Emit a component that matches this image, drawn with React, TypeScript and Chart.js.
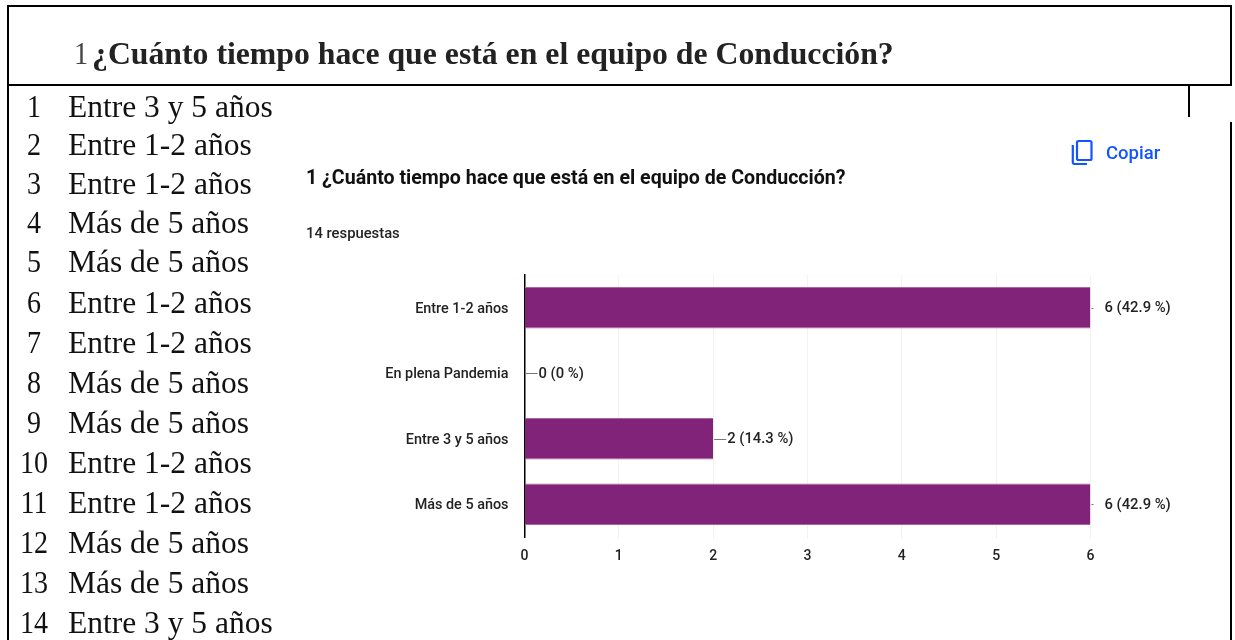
import React, { useEffect, useRef } from "react";
import { Chart, registerables } from "chart.js";

Chart.register(...registerables);

const heading = "¿Cuánto tiempo hace que está en el equipo de Conducción?";
const categories = ["Entre 1-2 años", "En plena Pandemia", "Entre 3 y 5 años", "Más de 5 años"];
const counts = [6, 0, 2, 6];
const percents = ["42.9", "0", "14.3", "42.9"];
const xTicks = [0, 1, 2, 3, 4, 5, 6];
const answers = [
  "Entre 3 y 5 años", "Entre 1-2 años", "Entre 1-2 años", "Más de 5 años", "Más de 5 años",
  "Entre 1-2 años", "Entre 1-2 años", "Más de 5 años", "Más de 5 años", "Entre 1-2 años",
  "Entre 1-2 años", "Más de 5 años", "Más de 5 años", "Entre 3 y 5 años",
];
const answerY = [107, 145, 184, 223, 262, 303, 343, 383, 423, 463, 503, 543, 583, 623];

const SANS = "Roboto, sans-serif";
const SERIF = "'Liberation Serif', serif";

const labelPlugin = {
  id: "valueLabels",
  afterDatasetsDraw(chart: any) {
    const { ctx, scales } = chart;
    ctx.save();
    ctx.font = `500 14.8px ${SANS}`;
    ctx.textBaseline = "middle";
    ctx.textAlign = "left";
    counts.forEach((v, i) => {
      const x = scales.x.getPixelForValue(v);
      const y = scales.y.getPixelForValue(i);
      const full = v === Math.max(...counts);
      ctx.strokeStyle = "#777";
      ctx.lineWidth = 1;
      ctx.beginPath();
      ctx.moveTo(x + 1, Math.round(y) + 0.5);
      ctx.lineTo(x + (full ? 3 : 13), Math.round(y) + 0.5);
      ctx.stroke();
      ctx.fillStyle = "#222";
      ctx.fillText(`${v} (${percents[i]} %)`, x + 14, y + 1);
    });
    ctx.restore();
  },
};

const line = (left: number, top: number, width: number, height: number) => (
  <div style={{ position: "absolute", left, top, width, height, background: "#000" }} />
);

const text = (content: React.ReactNode, style: React.CSSProperties) => (
  <div style={{ position: "absolute", whiteSpace: "nowrap", ...style }}>{content}</div>
);

export default function App() {
  const ref = useRef<HTMLCanvasElement>(null);
  useEffect(() => {
    const chart = new Chart(ref.current!, {
      type: "bar",
      data: {
        labels: categories,
        datasets: [{
          data: counts,
          backgroundColor: "#82237A",
          borderColor: "#a765a1",
          borderWidth: { top: 1, bottom: 1 },
          borderSkipped: false,
          categoryPercentage: 1,
          barPercentage: 0.63,
        }],
      },
      plugins: [labelPlugin],
      options: {
        indexAxis: "y",
        animation: false,
        responsive: false,
        layout: { padding: { left: 340, right: 144.5, top: 275, bottom: 0 } },
        plugins: { legend: { display: false }, tooltip: { enabled: false }, title: { display: false } },
        scales: {
          x: {
            min: 0,
            max: 6,
            afterFit: (s: any) => { s.height = 103; },
            afterBuildTicks: (s: any) => { s.ticks = xTicks.map((value) => ({ value })); },
            grid: { color: "#f2f2f2", tickLength: 2, tickColor: "#f2f2f2" },
            border: { display: false },
            ticks: { color: "#222", padding: 9, font: { family: SANS, size: 14, weight: "500" }, maxRotation: 0 },
          },
          y: {
            afterFit: (s: any) => { s.width = 184.5; },
            grid: { display: false },
            border: { display: true, color: "#000", width: 1.5 },
            ticks: { color: "#222", padding: 8, labelOffset: 1.5, font: { family: SANS, size: 14.4, weight: "500" } },
          },
        },
      },
    } as any);
    return () => chart.destroy();
  }, []);

  return (
    <div style={{ position: "fixed", left: 0, top: 0, width: 1235, height: 640, background: "#fff", overflow: "hidden" }}>
      <canvas ref={ref} width={1235} height={640} style={{ position: "absolute", left: 0, top: 0, display: "block" }} />
      {line(7, 5, 1225, 2)}
      {line(7, 5, 2, 635)}
      {line(7, 84, 1225, 2)}
      {line(1230, 5, 2, 80)}
      {line(1188, 85, 2, 32)}
      {line(1230, 122, 2, 518)}
      {text("1", { left: 74, top: 54, transform: "translateY(-50%) scaleX(0.9)", transformOrigin: "left center", fontFamily: SERIF, fontSize: 31.5, color: "#444" })}
      {text(<b>{heading}</b>, { left: 92, top: 54, transform: "translateY(-50%)", fontFamily: SERIF, fontSize: 31.75, color: "#222" })}
      {answers.map((a, i) => (
        <React.Fragment key={i}>
          {text(i + 1, { left: 14, width: 40, textAlign: "center", top: answerY[i], transform: "translateY(-50%) scaleX(0.89)", fontFamily: SERIF, fontSize: 31.5, color: "#111" })}
          {text(a, { left: 68, top: answerY[i], transform: "translateY(-50%)", fontFamily: SERIF, fontSize: 31.5, color: "#111" })}
        </React.Fragment>
      ))}
      {text(`1 ${heading}`, { left: 306, top: 177, transform: "translateY(-50%)", fontFamily: SANS, fontWeight: 700, fontSize: 19.6, color: "#111" })}
      {text("14 respuestas", { left: 306, top: 233, transform: "translateY(-50%)", fontFamily: SANS, fontWeight: 500, fontSize: 14.8, color: "#222" })}
      <svg style={{ position: "absolute", left: 1070, top: 139 }} width={24} height={28} viewBox="0 0 24 28" fill="none" stroke="#1155ff" strokeWidth={2.2}>
        <rect x={7} y={2} width={14.5} height={19} rx={1.5} />
        <path d="M2.8 6 V23.5 a1.5 1.5 0 0 0 1.5 1.5 H17" />
      </svg>
      {text("Copiar", { left: 1106, top: 153, transform: "translateY(-50%)", fontFamily: SANS, fontWeight: 500, fontSize: 18.5, color: "#1155ff" })}
    </div>
  );
}
